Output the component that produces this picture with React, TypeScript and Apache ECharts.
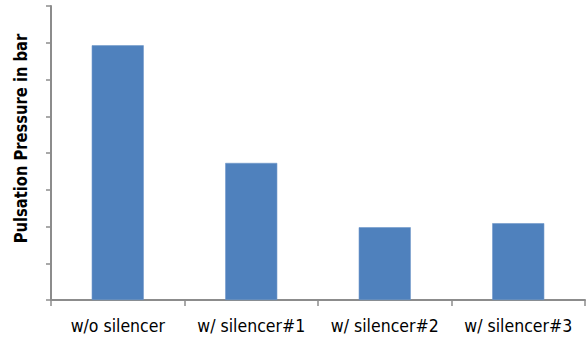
import React, { useEffect, useRef } from "react";
import * as echarts from "echarts";

// Test configurations along the category axis
const categories = ["w/o silencer", "w/ silencer#1", "w/ silencer#2", "w/ silencer#3"];
// Measured pulsation pressure (bar)
const pulsation = [6.93, 3.73, 1.98, 2.09];
// Value-axis range
const yMin = 0;
const yMax = 8;
const yStep = 1;

const axisGray = "#8c8c8c";
const narrowFont = "'DejaVu Sans Condensed', 'Liberation Sans Narrow', sans-serif";

export default function App() {
  const ref = useRef<HTMLDivElement>(null);

  useEffect(() => {
    document.body.style.margin = "0";
    const chart = echarts.init(ref.current!, null, { renderer: "svg" });
    chart.setOption({
      animation: false,
      grid: { left: 51, right: 2, top: 6, bottom: 41, containLabel: false },
      xAxis: {
        type: "category",
        data: categories,
        axisLine: { show: true, lineStyle: { color: axisGray, width: 2 } },
        axisTick: { show: true, length: 6, alignWithLabel: false, lineStyle: { color: axisGray, width: 1.5 } },
        axisLabel: {
          color: "#000",
          fontFamily: narrowFont,
          fontSize: 17.5,
          margin: 17,
          interval: 0,
        },
      },
      yAxis: {
        type: "value",
        min: yMin,
        max: yMax,
        interval: yStep,
        axisLine: { show: true, lineStyle: { color: axisGray, width: 2 } },
        axisTick: { show: true, length: 5, inside: false, lineStyle: { color: axisGray, width: 1.5 } },
        axisLabel: { show: false },
        splitLine: { show: false },
      },
      graphic: [
        {
          type: "text",
          x: 20.5,
          y: 138.5,
          rotation: Math.PI / 2,
          scaleX: 0.91,
          style: {
            text: "Pulsation Pressure in bar",
            fill: "#000",
            font: `bold 18px ${narrowFont}`,
            align: "center",
            verticalAlign: "middle",
          },
        },
      ],
      series: [
        {
          type: "bar",
          data: pulsation,
          barWidth: "39%",
          itemStyle: { color: "#4f81bd", borderColor: "#6f97c9", borderWidth: 0.6 },
        },
      ],
    });
    return () => chart.dispose();
  }, []);

  return (
    <div
      ref={ref}
      style={{ position: "absolute", left: 0, top: 0, width: 587, height: 341 }}
    />
  );
}
